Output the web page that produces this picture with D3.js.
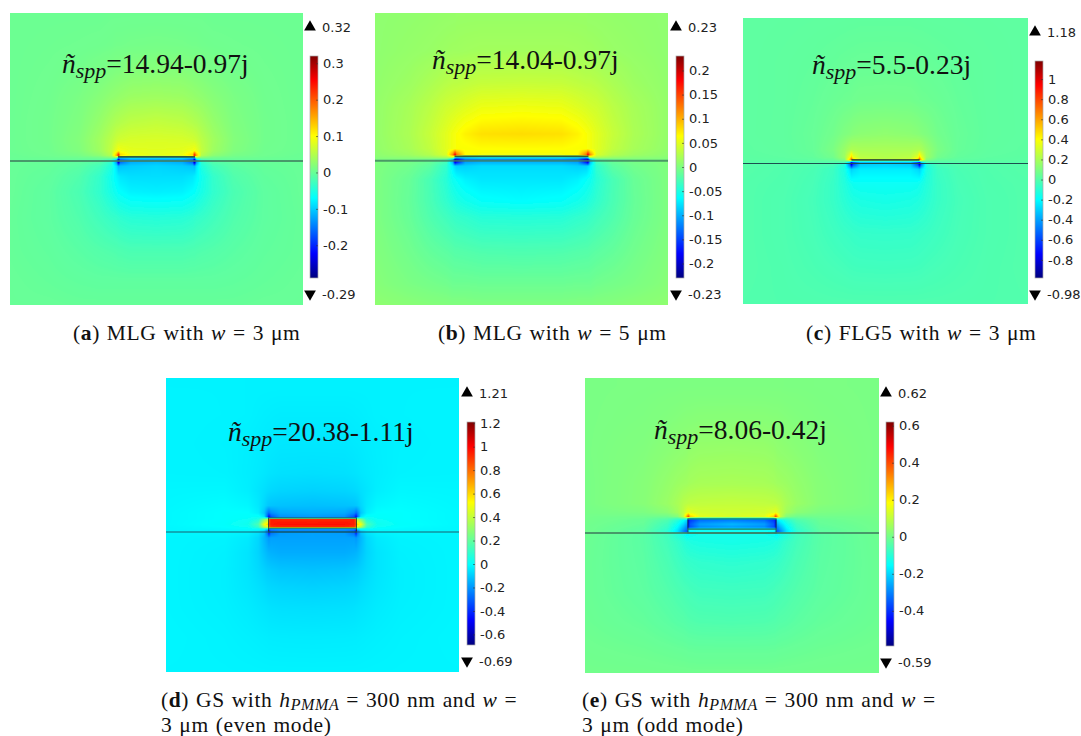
<!DOCTYPE html>
<html>
<head>
<meta charset="utf-8">
<script src="https://cdn.jsdelivr.net/npm/d3@7"></script>
<style>
  html, body { margin: 0; padding: 0; background: #fff; }
  svg { display: block; }
</style>
</head>
<body>
<div id="grafico"></div>
<script>
// field values: each matrix holds the right half of a panel
// (mirrored when drawn), rows run top to bottom, distances are in um from the centre / the line
const ticksA = [-0.2, -0.1, 0, 0.1, 0.2, 0.3];
const rangeA = [-0.29, 0.32];
const colsA = [0, 1.0, 1.4, 1.48, 1.56, 1.75, 2.2, 3, 4.2, 5.7];
const rowsA = [5.8, 4.5, 3.5, 2.5, 1.5, .8, .4, .22, .14, .04, -.04, -.2, -.6, -1.2, -2.2, -3.5, -4.7, -5.6];
const fieldA = [
  [.003, .003, .003, .003, .003, .003, .002, .002, .002, .002],
  [.009, .008, .007, .007, .007, .006, .005, .004, .003, .002],
  [.02, .019, .017, .016, .016, .014, .011, .007, .004, .002],
  [.036, .034, .03, .029, .028, .026, .02, .012, .005, .002],
  [.06, .056, .05, .048, .047, .042, .03, .015, .006, .002],
  [.075, .074, .07, .068, .065, .055, .038, .018, .006, .002],
  [.08, .082, .09, .095, .085, .06, .036, .016, .005, .002],
  [.082, .09, .13, .25, .15, .05, .025, .01, .004, .001],
  [-.08, -.08, -.09, -.08, .04, .02, .008, .004, .002, .001],
  [-.13, -.13, -.17, -.27, -.12, -.03, -.006, -.003, -.001, 0],
  [-.11, -.12, -.16, -.27, -.13, -.04, -.014, -.006, -.002, -.001],
  [-.095, -.1, -.105, -.11, -.085, -.05, -.025, -.01, -.003, -.001],
  [-.09, -.09, -.085, -.08, -.075, -.06, -.036, -.016, -.005, -.001],
  [-.08, -.078, -.07, -.068, -.064, -.055, -.038, -.02, -.007, -.001],
  [-.046, -.044, -.04, -.038, -.036, -.034, -.027, -.016, -.007, -.002],
  [-.02, -.02, -.018, -.018, -.017, -.016, -.014, -.01, -.005, -.002],
  [-.006, -.006, -.006, -.006, -.006, -.006, -.006, -.005, -.003, -.001],
  [-.002, -.002, -.002, -.002, -.002, -.002, -.002, -.002, -.001, -.001]
];

const ticksB = [-0.2, -0.15, -0.1, -0.05, 0, 0.05, 0.1, 0.15, 0.2];
const rangeB = [-0.23, 0.23];
const colsB = [0, 1.5, 2.1, 2.42, 2.48, 2.56, 2.8, 3.4, 4.2, 5.5];
const rowsB = [5.6, 4.1, 2.9, 2, 1, .45, .22, .13, .04, -.04, -.2, -.7, -1.5, -2.1, -3.4, -4.6, -5.4];
const fieldB = [
  [.012, .012, .012, .012, .011, .011, .011, .01, .009, .008],
  [.018, .018, .017, .016, .016, .016, .015, .013, .011, .008],
  [.036, .035, .032, .03, .03, .03, .028, .022, .015, .009],
  [.057, .055, .048, .044, .043, .042, .04, .03, .02, .01],
  [.08, .078, .07, .062, .06, .058, .05, .036, .022, .01],
  [.065, .065, .062, .062, .06, .058, .05, .033, .02, .009],
  [.06, .06, .065, .13, .19, .12, .045, .026, .015, .007],
  [-.06, -.06, -.07, -.07, -.03, .04, .025, .014, .008, .005],
  [-.12, -.12, -.13, -.2, -.22, -.1, -.02, -.008, -.002, 0],
  [-.1, -.1, -.11, -.18, -.21, -.1, -.03, -.012, -.004, 0],
  [-.08, -.08, -.085, -.085, -.08, -.07, -.04, -.018, -.007, 0],
  [-.075, -.075, -.07, -.062, -.06, -.058, -.045, -.028, -.012, 0],
  [-.065, -.062, -.055, -.05, -.048, -.046, -.04, -.027, -.013, 0],
  [-.046, -.045, -.04, -.038, -.037, -.036, -.032, -.024, -.012, 0],
  [-.025, -.024, -.022, -.021, -.021, -.02, -.018, -.014, -.007, .002],
  [-.01, -.01, -.009, -.009, -.009, -.009, -.007, -.005, -.002, .004],
  [0, 0, .001, .001, .001, .001, .002, .003, .005, .008]
];

const ticksC = [-0.8, -0.6, -0.4, -0.2, 0, 0.2, 0.4, 0.6, 0.8, 1];
const rangeC = [-0.98, 1.18];
const colsC = [0, 1.1, 1.42, 1.5, 1.58, 1.8, 2.3, 3.2, 4.5, 6.3];
const rowsC = [6.3, 4.5, 2.8, 1.3, .6, .28, .17, .1, .03, -.03, -.25, -.9, -1.6, -3.1, -4.5, -6.2];
const fieldC = [
  [.028, .028, .027, .027, .027, .026, .025, .024, .022, .02],
  [.045, .044, .042, .042, .041, .04, .036, .03, .025, .02],
  [.07, .068, .062, .06, .058, .056, .05, .036, .025, .02],
  [.14, .13, .12, .115, .11, .1, .07, .042, .026, .02],
  [.2, .2, .21, .21, .2, .16, .09, .04, .024, .018],
  [.22, .24, .34, .5, .36, .17, .07, .032, .02, .016],
  [.24, .28, .52, .75, .5, .12, .04, .02, .015, .014],
  [-.1, -.1, -.1, -.05, .05, .03, .01, .01, .01, .01],
  [-.4, -.4, -.7, -.9, -.4, -.05, -.01, -.005, 0, .005],
  [-.3, -.32, -.6, -.85, -.5, -.12, -.03, -.01, -.005, 0],
  [-.24, -.24, -.28, -.3, -.25, -.14, -.06, -.025, -.01, 0],
  [-.18, -.18, -.17, -.16, -.15, -.12, -.07, -.032, -.012, -.005],
  [-.15, -.14, -.13, -.125, -.12, -.105, -.07, -.037, -.015, -.005],
  [-.08, -.078, -.072, -.07, -.068, -.064, -.052, -.032, -.015, -.005],
  [-.05, -.048, -.046, -.045, -.044, -.04, -.034, -.024, -.012, -.005],
  [-.012, -.012, -.012, -.012, -.012, -.012, -.012, -.011, -.01, -.008]
];

const ticksD = [-0.6, -0.4, -0.2, 0, 0.2, 0.4, 0.6, 0.8, 1, 1.2];
const rangeD = [-0.69, 1.21];
const colsD = [0, 1.1, 1.42, 1.49, 1.53, 1.65, 1.85, 2.2, 3, 5];
const rowsD = [5, 4, 3, 2, 1.4, .9, .65, .52, .47, .44, .26, .16, .14, .1, .03, -.03, -.2, -.7, -1.3, -1.9, -2.6, -3.6, -5];
const fieldD = [
  [-.03, -.03, -.03, -.03, -.03, -.03, -.03, -.03, -.028, -.028],
  [-.04, -.04, -.038, -.037, -.037, -.036, -.034, -.03, -.028, -.026],
  [-.05, -.05, -.046, -.045, -.045, -.043, -.04, -.036, -.03, -.026],
  [-.065, -.062, -.057, -.055, -.054, -.05, -.045, -.038, -.028, -.026],
  [-.09, -.085, -.078, -.075, -.073, -.065, -.054, -.036, -.02, -.022],
  [-.125, -.12, -.115, -.11, -.105, -.08, -.047, -.02, -.01, -.02],
  [-.155, -.165, -.22, -.28, -.24, -.11, -.035, -.005, -.005, -.018],
  [-.19, -.21, -.33, -.5, -.32, -.05, .01, 0, -.005, -.018],
  [-.1, -.1, -.1, -.1, .1, .1, .03, .005, -.005, -.018],
  [.92, .93, .94, .8, .35, .25, .05, .01, -.005, -.018],
  [.97, .97, .95, .85, .6, .5, .15, .03, 0, -.018],
  [.92, .92, .9, .8, .45, .35, .1, .01, -.008, -.02],
  [.02, .02, .02, .02, .2, .2, .05, 0, -.01, -.02],
  [-.2, -.2, -.22, -.28, -.05, .02, 0, -.01, -.015, -.02],
  [-.24, -.24, -.3, -.5, -.3, -.1, -.04, -.02, -.02, -.02],
  [-.18, -.19, -.27, -.45, -.28, -.12, -.06, -.03, -.02, -.02],
  [-.18, -.18, -.18, -.2, -.18, -.14, -.08, -.045, -.028, -.024],
  [-.16, -.16, -.15, -.145, -.14, -.12, -.085, -.055, -.032, -.024],
  [-.12, -.115, -.105, -.1, -.1, -.09, -.075, -.055, -.034, -.024],
  [-.09, -.085, -.08, -.078, -.077, -.07, -.062, -.05, -.034, -.024],
  [-.065, -.063, -.06, -.058, -.057, -.054, -.05, -.042, -.032, -.024],
  [-.042, -.041, -.04, -.04, -.039, -.038, -.036, -.033, -.028, -.022],
  [-.025, -.025, -.025, -.025, -.025, -.025, -.025, -.025, -.025, -.025]
];

const ticksE = [-0.4, -0.2, 0, 0.2, 0.4, 0.6];
const rangeE = [-0.59, 0.62];
const colsE = [0, 1.1, 1.42, 1.49, 1.53, 1.65, 1.85, 2.2, 3, 5];
const rowsE = [5, 3.9, 2.7, 1.7, 1, .7, .56, .5, .44, .3, .2, .12, .06, .02, -.03, -.3, -1, -2, -3, -4, -5];
const fieldE = [
  [.012, .012, .012, .012, .012, .012, .011, .011, .01, .008],
  [.027, .026, .024, .024, .024, .023, .021, .018, .013, .008],
  [.05, .048, .044, .042, .04, .038, .035, .03, .019, .008],
  [.07, .068, .063, .06, .058, .056, .052, .042, .024, .006],
  [.105, .102, .098, .096, .094, .088, .07, .05, .025, .006],
  [.12, .125, .14, .15, .14, .1, .06, .03, .01, .003],
  [.13, .145, .24, .42, .3, .1, .02, -.005, -.003, 0],
  [-.1, -.1, -.1, -.05, -.02, -.02, -.05, -.03, -.01, 0],
  [-.31, -.33, -.39, -.44, -.2, -.15, -.1, -.05, -.015, 0],
  [-.24, -.27, -.35, -.44, -.26, -.2, -.14, -.07, -.02, -.002],
  [-.27, -.29, -.36, -.42, -.3, -.24, -.16, -.08, -.025, -.003],
  [-.14, -.14, -.14, -.16, -.33, -.27, -.18, -.09, -.03, -.003],
  [-.14, -.14, -.15, -.2, -.36, -.3, -.19, -.1, -.03, -.004],
  [-.15, -.15, -.16, -.25, -.32, -.26, -.17, -.09, -.03, -.005],
  [-.13, -.13, -.14, -.16, -.16, -.13, -.11, -.07, -.035, -.008],
  [-.125, -.12, -.115, -.11, -.11, -.1, -.085, -.065, -.035, -.01],
  [-.095, -.09, -.085, -.083, -.082, -.078, -.07, -.055, -.033, -.012],
  [-.07, -.068, -.063, -.06, -.06, -.057, -.052, -.044, -.03, -.012],
  [-.05, -.048, -.045, -.044, -.043, -.04, -.038, -.032, -.022, -.01],
  [-.02, -.02, -.019, -.019, -.018, -.017, -.016, -.014, -.01, -.005],
  [0, 0, 0, 0, 0, 0, 0, 0, 0, 0]
];

const indices = ['14.94-0.97j', '14.04-0.97j', '5.5-0.23j', '20.38-1.11j', '8.06-0.42j'];
const deviceWidth = [3, 5, 3, 3, 3];
const deviceHeight = [.16, .16, .16, .48, .48];

// layout, in page pixels
const painel = [
  { ticks: ticksA, range: rangeA, cols: colsA, rows: rowsA, field: fieldA, xMax: 5.7,
    x0: 10, x1: 303, y0: 13, y1: 305, zero: 161, bar: [310, 56, 278], triTop: 27, triBot: 294,
    label: [62, 73], lineW: 2, lineC: '#3f7f5f', lineOp: .8 },
  { ticks: ticksB, range: rangeB, cols: colsB, rows: rowsB, field: fieldB, xMax: 5.47,
    x0: 375, x1: 668, y0: 13, y1: 305, zero: 160.7, bar: [676, 56, 278], triTop: 27, triBot: 294,
    label: [432, 69], lineW: 2, lineC: '#3f7f5f', lineOp: .8 },
  { ticks: ticksC, range: rangeC, cols: colsC, rows: rowsC, field: fieldC, xMax: 6.28,
    x0: 743, x1: 1028, y0: 18, y1: 304, zero: 163.5, bar: [1035, 61, 278], triTop: 32, triBot: 294,
    label: [812, 74], lineW: 1, lineC: '#1f4f4f', lineOp: 1 },
  { ticks: ticksD, range: rangeD, cols: colsD, rows: rowsD, field: fieldD, xMax: 5,
    x0: 166, x1: 459, y0: 378, y1: 672, zero: 532, bar: [467, 422, 645], triTop: 393, triBot: 661,
    label: [228, 441], lineW: 1, lineC: '#0f5f6f', lineOp: 1 },
  { ticks: ticksE, range: rangeE, cols: colsE, rows: rowsE, field: fieldE, xMax: 5,
    x0: 585, x1: 879, y0: 378, y1: 673, zero: 533, bar: [886, 422, 646], triTop: 393, triBot: 662,
    label: [654, 439], lineW: 2, lineC: '#3f7f5f', lineOp: .8 }
];

const largura = 1081;
const altura = 736;

const svg = d3.select('#grafico').append('svg')
  .attr('width', largura)
  .attr('height', altura)
  .attr('viewBox', `0 0 ${largura} ${altura}`);

// the rainbow used by the colour bars
const jetStops = [0, .11, .36, .5, .64, .89, 1];
const jetColors = ['#00007f', '#0000ff', '#00ffff', '#7fff7f', '#ffff00', '#ff0000', '#7f0000'];
const jet = d3.scaleLinear().domain(jetStops).range(jetColors).clamp(true);
const lut = d3.range(1024).map(i => d3.rgb(jet(i / 1023)));

const defs = svg.append('defs');
const grad = defs.append('linearGradient').attr('id', 'jet')
  .attr('x1', 0).attr('y1', 1).attr('x2', 0).attr('y2', 0);
jetStops.forEach((s, i) => {
  grad.append('stop').attr('offset', s).attr('stop-color', jetColors[i]);
});
// the picture is a slightly soft raster
defs.append('filter').attr('id', 'suave')
  .attr('x', 0).attr('y', 0).attr('width', 1).attr('height', 1)
  .append('feGaussianBlur').attr('stdDeviation', .55).attr('edgeMode', 'duplicate');

function pintarCampo(p, i) {
  const w = p.x1 - p.x0, h = p.y1 - p.y0;
  const pxPerUm = (p.x1 - p.x0) / (2 * p.xMax);
  const escalaX = d3.scaleLinear().domain([-p.xMax, p.xMax]).range([p.x0, p.x1]);
  const escalaY = d3.scaleLinear().domain([0, 1]).range([p.zero, p.zero - pxPerUm]);
  const colIdx = d3.scaleLinear().domain(p.cols).range(d3.range(p.cols.length)).clamp(true);
  const rowIdx = d3.scaleLinear().domain(p.rows).range(d3.range(p.rows.length)).clamp(true);
  const cor = d3.scaleLinear().domain(p.range).range([0, 1023]).clamp(true);

  const canvas = document.createElement('canvas');
  canvas.width = w; canvas.height = h;
  const ctx = canvas.getContext('2d');
  const img = ctx.createImageData(w, h);
  for (let py = 0; py < h; py++) {
    const fy = rowIdx(escalaY.invert(p.y0 + py + .5));
    const r0 = Math.min(Math.floor(fy), p.rows.length - 2), ry = fy - r0;
    for (let px = 0; px < w; px++) {
      const fx = colIdx(Math.abs(escalaX.invert(p.x0 + px + .5)));
      const c0 = Math.min(Math.floor(fx), p.cols.length - 2), rx = fx - c0;
      const v = (1 - ry) * ((1 - rx) * p.field[r0][c0] + rx * p.field[r0][c0 + 1])
              + ry * ((1 - rx) * p.field[r0 + 1][c0] + rx * p.field[r0 + 1][c0 + 1]);
      const c = lut[Math.round(cor(v))];
      const k = (py * w + px) * 4;
      img.data[k] = c.r; img.data[k + 1] = c.g; img.data[k + 2] = c.b; img.data[k + 3] = 255;
    }
  }
  ctx.putImageData(img, 0, 0);

  const g = svg.append('g').attr('class', 'painel');
  const campo = g.append('g').attr('filter', 'url(#suave)');
  campo.append('image')
    .attr('x', p.x0).attr('y', p.y0)
    .attr('width', w).attr('height', h)
    .attr('href', canvas.toDataURL());

  // device outline and the interface line
  const dw = deviceWidth[i] / 2, dh = deviceHeight[i];
  if (dh > .3) {
    campo.append('rect')
      .attr('x', escalaX(-dw)).attr('y', escalaY(dh))
      .attr('width', escalaX(dw) - escalaX(-dw)).attr('height', escalaY(0) - escalaY(dh))
      .attr('fill', 'none')
      .attr('stroke', '#14352f').attr('stroke-opacity', .8).attr('stroke-width', 1);
    campo.append('line')
      .attr('x1', escalaX(-dw)).attr('x2', escalaX(dw))
      .attr('y1', escalaY(.13)).attr('y2', escalaY(.13))
      .attr('stroke', '#2c5a3c').attr('stroke-opacity', .8).attr('stroke-width', 1.2);
  } else {
    campo.append('line')
      .attr('x1', escalaX(-dw)).attr('x2', escalaX(dw))
      .attr('y1', escalaY(dh)).attr('y2', escalaY(dh))
      .attr('stroke', '#2c4a34').attr('stroke-opacity', .9).attr('stroke-width', 1.8);
  }
  campo.append('line')
    .attr('x1', p.x0).attr('x2', p.x1)
    .attr('y1', p.zero).attr('y2', p.zero)
    .attr('stroke', p.lineC).attr('stroke-opacity', p.lineOp).attr('stroke-width', p.lineW);

  // n~spp annotation
  const t = g.append('text')
    .attr('x', p.label[0]).attr('y', p.label[1])
    .style('font-family', '"Liberation Serif", serif')
    .style('font-size', '27.5px')
    .attr('fill', '#111');
  t.append('tspan').style('font-style', 'italic').text('ñ');
  t.append('tspan').style('font-style', 'italic').style('font-size', '22px').attr('dy', 5).text('spp');
  t.append('tspan').attr('dy', -5).text('=' + indices[i]);

  // colour bar
  const [bx, bTop, bBot] = p.bar;
  const bw = 8;
  const escalaCor = d3.scaleLinear().domain(p.range).range([bBot, bTop]);
  g.append('rect')
    .attr('x', bx).attr('y', bTop).attr('width', bw).attr('height', bBot - bTop)
    .attr('fill', 'url(#jet)').attr('stroke', '#aaa').attr('stroke-width', .7);
  const eixo = g.append('g')
    .attr('transform', `translate(${bx + bw},0)`)
    .call(d3.axisRight(escalaCor).tickValues(p.ticks).tickSize(-2).tickPadding(5).tickFormat(d => String(d)));
  eixo.select('.domain').remove();
  eixo.selectAll('line').attr('stroke', '#333').attr('stroke-opacity', .6);
  eixo.selectAll('text')
    .style('font-family', '"DejaVu Sans", sans-serif').style('font-size', '13px').attr('fill', '#222');

  // max and min markers
  const tri = d3.symbol().type(d3.symbolTriangle).size(60);
  g.append('path').attr('d', tri).attr('fill', '#000')
    .attr('transform', `translate(${bx},${p.triTop})`);
  g.append('path').attr('d', tri).attr('fill', '#000')
    .attr('transform', `translate(${bx},${p.triBot}) rotate(180)`);
  [[p.triTop, p.range[1]], [p.triBot, p.range[0]]].forEach(([y, v]) => {
    g.append('text').attr('x', bx + bw + 4).attr('y', y + 5)
      .style('font-family', '"DejaVu Sans", sans-serif').style('font-size', '13px').attr('fill', '#222')
      .text(v);
  });
}

painel.forEach(pintarCampo);

// captions, as runs of [text, style]
const legendas = [
  { x: 73, y: 340, runs: [['(', ''], ['a', 'b'], [') MLG with ', ''], ['w', 'i'], [' = 3 μm', '']] },
  { x: 438, y: 340, runs: [['(', ''], ['b', 'b'], [') MLG with ', ''], ['w', 'i'], [' = 5 μm', '']] },
  { x: 806, y: 340, runs: [['(', ''], ['c', 'b'], [') FLG5 with ', ''], ['w', 'i'], [' = 3 μm', '']] },
  { x: 161, y: 707, runs: [['(', ''], ['d', 'b'], [') GS with ', ''], ['h', 'i'], ['PMMA', 's'], [' = 300 nm and ', ''], ['w', 'i'], [' =', '']] },
  { x: 161, y: 732, runs: [['3 μm (even mode)', '']] },
  { x: 582, y: 707, runs: [['(', ''], ['e', 'b'], [') GS with ', ''], ['h', 'i'], ['PMMA', 's'], [' = 300 nm and ', ''], ['w', 'i'], [' =', '']] },
  { x: 582, y: 732, runs: [['3 μm (odd mode)', '']] }
];

legendas.forEach(l => {
  const t = svg.append('text').attr('x', l.x).attr('y', l.y)
    .attr('xml:space', 'preserve').style('white-space', 'pre')
    .style('font-family', '"Liberation Serif", serif').style('font-size', '21.5px')
    .style('letter-spacing', '.6px').style('word-spacing', '1px').attr('fill', '#111');
  let desce = 0;
  l.runs.forEach(([txt, st]) => {
    const s = t.append('tspan').text(txt);
    if (st === 'b') s.style('font-weight', 'bold');
    if (st === 'i') s.style('font-style', 'italic');
    const alvo = st === 's' ? 3 : 0;
    if (alvo !== desce) { s.attr('dy', alvo - desce); desce = alvo; }
    if (st === 's') s.style('font-style', 'italic').style('font-size', '16px');
  });
});
</script>
</body>
</html>
